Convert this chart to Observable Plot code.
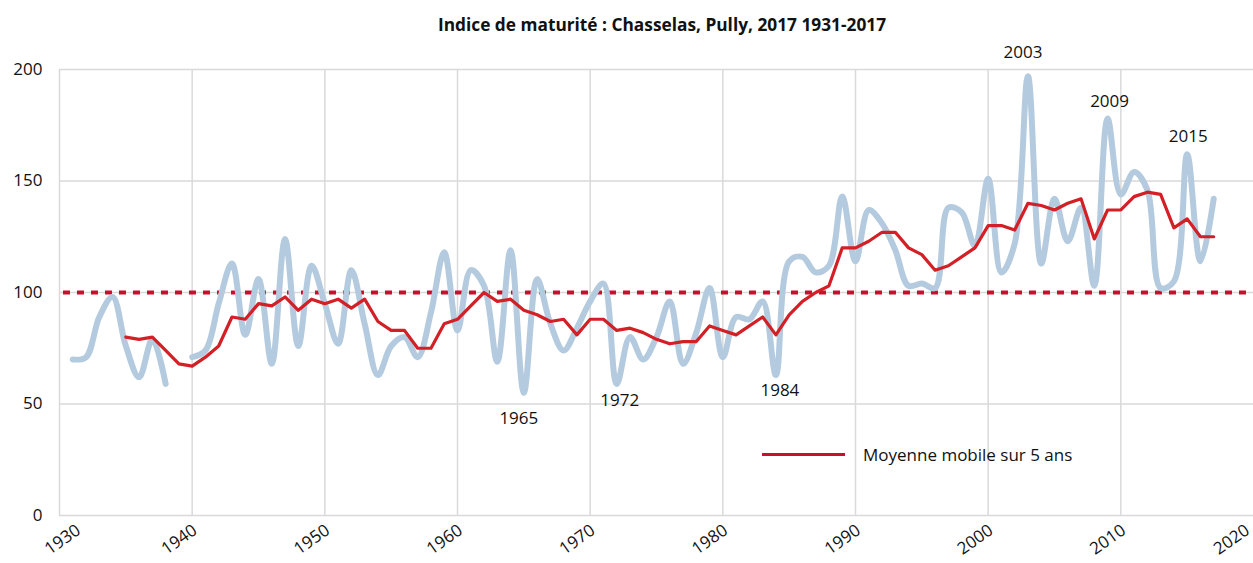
<!DOCTYPE html>
<html>
<head>
<meta charset="utf-8">
<script src="https://cdn.jsdelivr.net/npm/d3@7"></script>
<script src="https://cdn.jsdelivr.net/npm/@observablehq/plot@0.6"></script>
<style>
  body { margin: 0; background: #fff; font-family: "Open Sans", "Noto Sans", sans-serif; }
  #wrap { position: relative; width: 1253px; height: 563px; }
  #title { height: 30px; line-height: 50px; padding-left: 71px; box-sizing: border-box; text-align: center;
           font-weight: bold; font-size: 17.3px; color: #111; white-space: nowrap; }
  #legend { position: absolute; left: 762px; top: 443px; display: flex; align-items: center; font-size: 17px; color: #111; }
  #legend .sw { width: 83px; height: 3px; background: #c8102e; margin-right: 18px; }
</style>
</head>
<body>
<div id="wrap">
  <div id="title">Indice de maturité : Chasselas, Pully, 2017 1931-2017</div>
  <div id="chart"></div>
  <div id="legend"><div class="sw"></div><span>Moyenne mobile sur 5 ans</span></div>
</div>
<script>
// Years of the series
const years = d3.range(1931, 2018);
// Indice de maturité (annual), 1939 missing
const indice = [
  70, 71, 89, 98, 76, 62, 79, 59, null,           // 1931-1939
  71, 74, 95, 113, 81, 106, 68, 124, 76, 112,     // 1940-1949
  95, 77, 110, 86, 63, 76, 80, 71, 91, 118,       // 1950-1959
  83, 110, 103, 69, 119, 55, 106, 86, 74, 84,     // 1960-1969
  96, 104, 59, 80, 70, 80, 96, 68, 82, 102,       // 1970-1979
  71, 89, 88, 96, 63, 114, 116, 109, 112, 143,    // 1980-1989
  114, 137, 131, 119, 103, 104, 102, 138, 136, 121, // 1990-1999
  151, 109, 122, 197, 113, 142, 123, 138, 103, 178, // 2000-2009
  144, 154, 146, 102, 105, 162, 114, 142          // 2010-2017
];
// Moyenne mobile sur 5 ans, 1935-2017
const mmYears = d3.range(1935, 2018);
const moyenne = [
  80, 79, 80, 74, 68,                              // 1935-1939
  67, 71, 76, 89, 88, 95, 94, 98, 92, 97,          // 1940-1949
  95, 97, 93, 97, 87, 83, 83, 75, 75, 86,          // 1950-1959
  88, 94, 100, 96, 97, 92, 90, 87, 88, 81,         // 1960-1969
  88, 88, 83, 84, 82, 79, 77, 78, 78, 85,          // 1970-1979
  83, 81, 85, 89, 81, 90, 96, 100, 103, 120,       // 1980-1989
  120, 123, 127, 127, 120, 117, 110, 112, 116, 120, // 1990-1999
  130, 130, 128, 140, 139, 137, 140, 142, 124, 137, // 2000-2009
  137, 143, 145, 144, 129, 133, 125, 125           // 2010-2017
];
const reference = [100];
const xTicks = [1930, 1940, 1950, 1960, 1970, 1980, 1990, 2000, 2010, 2020];
const yTicks = [0, 50, 100, 150, 200];
const labelYears = [1965, 1972, 1984, 2003, 2009, 2015];

const serie = years.map((y, i) => ({year: y, value: indice[i]}));
const mm = mmYears.map((y, i) => ({year: y, value: moyenne[i]}));
const valueOf = y => indice[years.indexOf(y)];

const gridColor = "#d9d9d9";
const axisFont = 17;
const xAxis = (ticks, dx) => Plot.axisX(ticks, {tickSize: 0, tickRotate: -35, tickPadding: 13, dx, fontSize: axisFont, tickFormat: d => String(d), label: null});
// label offsets (px) relative to the annotated point, in labelYears order
const labelOffsets = [[-5, 26], [3, 17], [4, 16], [-5, -24], [2, -17], [1, -18]];
const labelMarks = labelYears.map((yr, i) =>
  Plot.text([yr], {x: d => d, y: d => valueOf(d), text: d => String(d),
    dx: labelOffsets[i][0], dy: labelOffsets[i][1], fontSize: axisFont, fill: "#111"}));

const chart = Plot.plot({
  width: 1253,
  height: 533,
  marginLeft: 59,
  marginRight: 0,
  marginTop: 39,
  marginBottom: 48,
  style: {fontFamily: '"Open Sans", "Noto Sans", sans-serif', color: "#111", background: "transparent", display: "block"},
  x: {domain: [1930, 2020], axis: null, label: null},
  y: {domain: [0, 200], axis: null, label: null},
  marks: [
    Plot.gridY(yTicks, {stroke: gridColor, strokeOpacity: 1, strokeWidth: 1.5}),
    Plot.gridX(xTicks.filter(d => d < 2020), {stroke: gridColor, strokeOpacity: 1, strokeWidth: 1.5}),
    Plot.axisY(yTicks, {tickSize: 0, tickPadding: 17, fontSize: axisFont, textAnchor: "end", label: null}),
    xAxis(xTicks.slice(0, 1), 19),
    xAxis(xTicks.slice(1, -1), 3),
    xAxis(xTicks.slice(-1), -6),
    Plot.ruleY(reference, {x1: 1930.3, x2: 2019.6, stroke: "#c8102e", strokeWidth: 4, strokeDasharray: "7,7"}),
    Plot.line(serie, {x: "year", y: "value", stroke: "#b4cbdf", strokeWidth: 6, curve: "catmull-rom"}),
    Plot.line(mm, {x: "year", y: "value", stroke: "#d31f26", strokeWidth: 3.2}),
    ...labelMarks
  ]
});
document.getElementById("chart").appendChild(chart);
</script>
</body>
</html>
